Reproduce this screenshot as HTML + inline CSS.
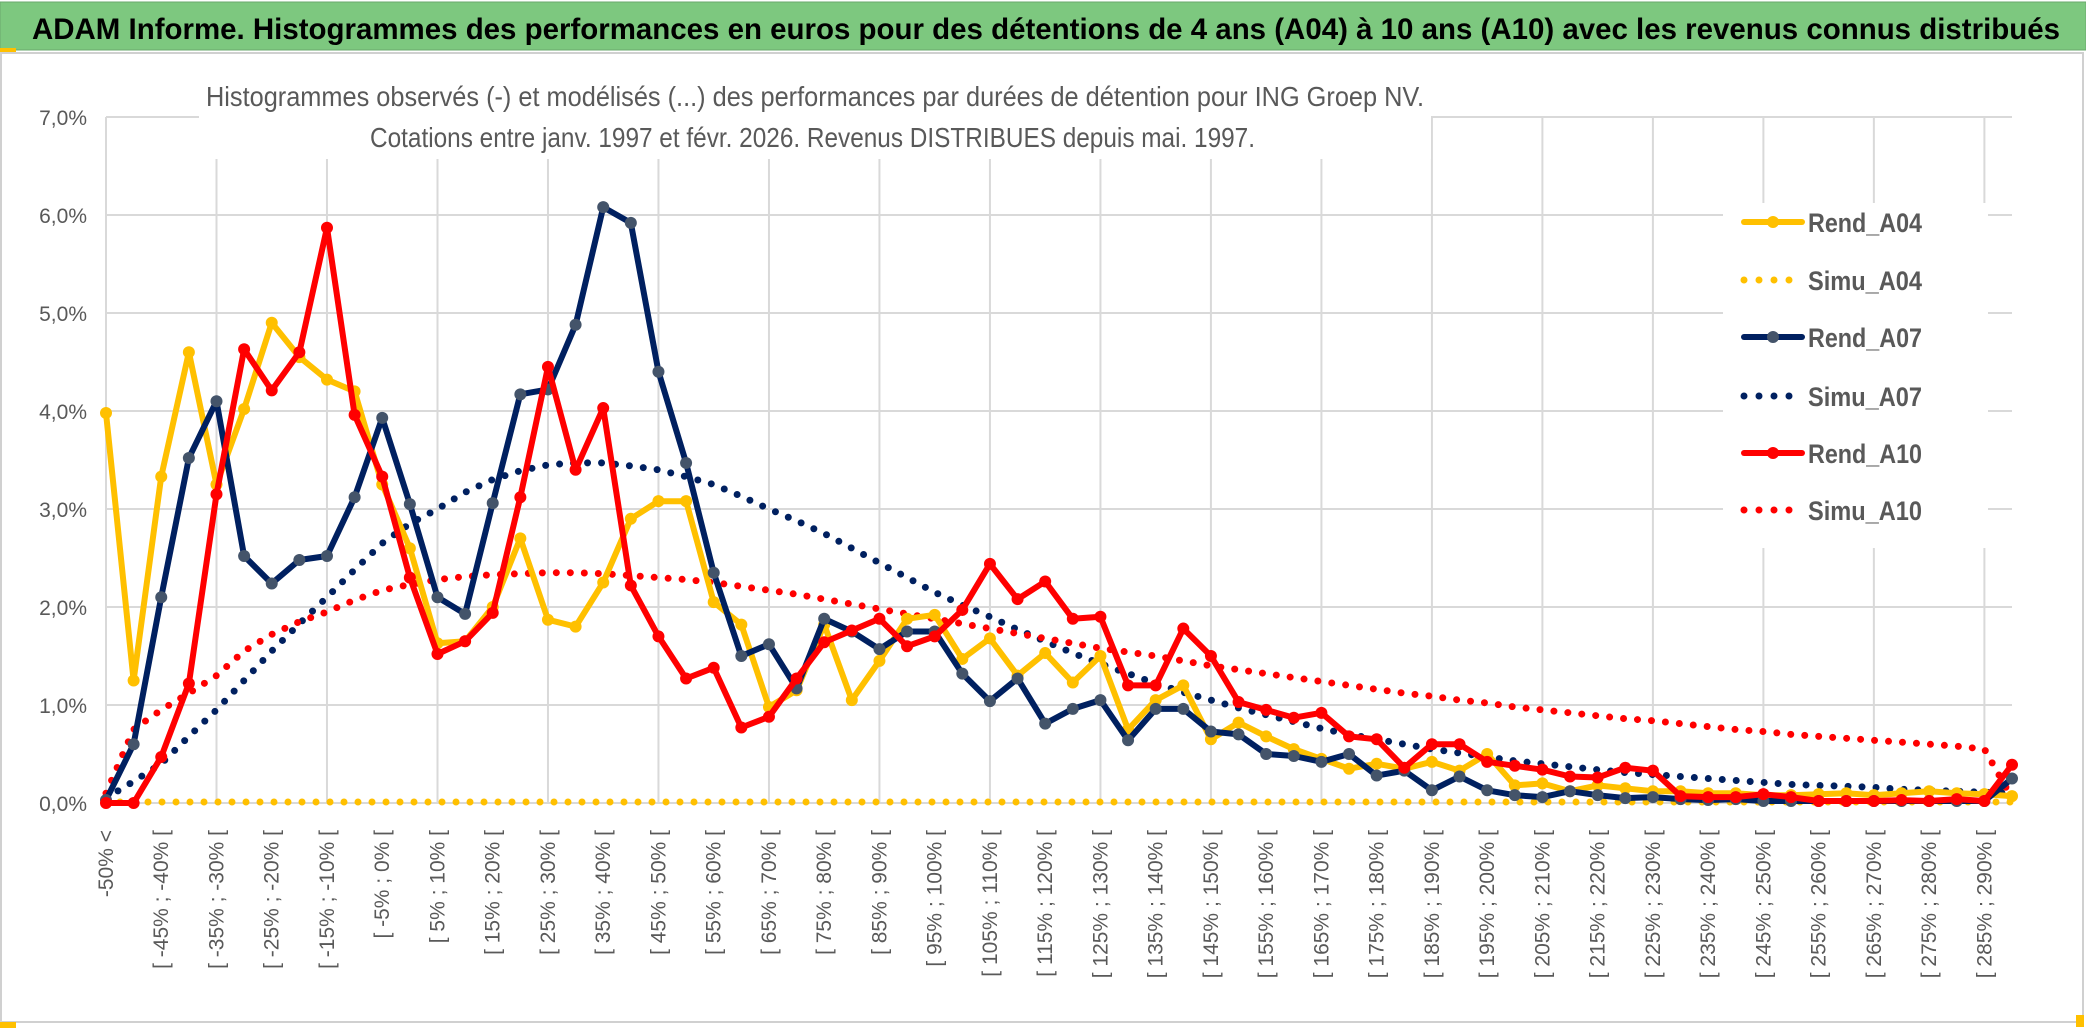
<!DOCTYPE html>
<html><head><meta charset="utf-8"><style>
html,body{margin:0;padding:0;background:#fff;}
svg{display:block;font-family:"Liberation Sans",sans-serif;}
</style></head><body>
<svg id="chart" width="2086" height="1031" viewBox="0 0 2086 1031" xmlns="http://www.w3.org/2000/svg">
<rect x="0" y="0" width="2086" height="1031" fill="#fff"/>
<rect x="0" y="2" width="2086" height="48" fill="#7dc87f" stroke="#6aa86c" stroke-width="1"/>
<rect x="0" y="48" width="16" height="4" fill="#ffc000"/>
<text x="32" y="39" font-size="30" font-weight="bold" fill="#000" textLength="2028" lengthAdjust="spacingAndGlyphs">ADAM Informe. Histogrammes des performances en euros pour des détentions de 4 ans (A04) à 10 ans (A10) avec les revenus connus distribués</text>
<rect x="1" y="53" width="2082" height="969" fill="none" stroke="#d0d0d0" stroke-width="2"/>
<rect x="0" y="1022" width="16" height="6" fill="#ffc000"/>
<rect x="2076" y="1015" width="8" height="12" fill="#ffc000"/>
<g id="grid"></g>
<g id="series"></g>
<g id="axes"></g>
<rect x="199" y="66" width="1232" height="93" fill="#fff"/>
<text x="206" y="106" font-size="28" fill="#595959" textLength="1218" lengthAdjust="spacingAndGlyphs">Histogrammes observés (-) et modélisés (...) des performances par durées de détention pour ING Groep NV.</text>
<text x="370" y="147" font-size="28" fill="#595959" textLength="885" lengthAdjust="spacingAndGlyphs">Cotations entre janv. 1997 et févr. 2026. Revenus DISTRIBUES depuis mai. 1997.</text>
<g id="legend"></g>
</svg>
<script>
const rendA04=[3.98,1.25,3.33,4.6,3.25,4.02,4.9,4.55,4.32,4.2,3.25,2.6,1.63,1.65,2.0,2.7,1.87,1.8,2.25,2.9,3.08,3.08,2.05,1.82,0.98,1.15,1.82,1.05,1.45,1.88,1.92,1.47,1.68,1.3,1.53,1.23,1.5,0.75,1.05,1.2,0.65,0.82,0.68,0.55,0.45,0.35,0.4,0.35,0.42,0.33,0.5,0.18,0.2,0.12,0.18,0.15,0.12,0.12,0.1,0.1,0.08,0.08,0.09,0.1,0.08,0.1,0.12,0.1,0.09,0.07];
const simuA04=[0.01,0.01,0.01,0.01,0.01,0.01,0.01,0.01,0.01,0.01,0.01,0.01,0.01,0.01,0.01,0.01,0.01,0.01,0.01,0.01,0.01,0.01,0.01,0.01,0.01,0.01,0.01,0.01,0.01,0.01,0.01,0.01,0.01,0.01,0.01,0.01,0.01,0.01,0.01,0.01,0.01,0.01,0.01,0.01,0.01,0.01,0.01,0.01,0.01,0.01,0.01,0.01,0.01,0.01,0.01,0.01,0.01,0.01,0.01,0.01,0.01,0.01,0.01,0.01,0.01,0.01,0.01,0.01,0.01,0.01];
const rendA07=[0.03,0.6,2.1,3.52,4.1,2.52,2.24,2.48,2.52,3.12,3.93,3.05,2.1,1.93,3.06,4.17,4.22,4.88,6.08,5.92,4.4,3.47,2.35,1.5,1.62,1.17,1.88,1.75,1.57,1.75,1.75,1.32,1.04,1.27,0.81,0.96,1.05,0.64,0.96,0.96,0.73,0.7,0.5,0.48,0.42,0.5,0.28,0.33,0.13,0.27,0.13,0.08,0.06,0.12,0.08,0.05,0.06,0.04,0.03,0.04,0.02,0.02,0.02,0.02,0.02,0.02,0.02,0.02,0.02,0.25];
const simuA07=[0.05,0.22,0.4,0.68,0.95,1.25,1.55,1.83,2.1,2.38,2.65,2.85,3.0,3.17,3.3,3.39,3.45,3.47,3.47,3.44,3.4,3.33,3.25,3.13,3.0,2.88,2.75,2.6,2.45,2.3,2.15,2.02,1.9,1.77,1.65,1.53,1.42,1.32,1.22,1.13,1.05,0.97,0.9,0.83,0.76,0.7,0.65,0.6,0.55,0.51,0.47,0.43,0.4,0.37,0.34,0.31,0.29,0.27,0.25,0.23,0.21,0.19,0.18,0.17,0.16,0.14,0.13,0.12,0.11,0.1];
const rendA10=[0.0,0.0,0.47,1.22,3.15,4.63,4.21,4.6,5.87,3.96,3.33,2.3,1.52,1.65,1.94,3.12,4.45,3.4,4.03,2.22,1.7,1.27,1.38,0.77,0.88,1.27,1.64,1.76,1.88,1.6,1.7,1.97,2.44,2.08,2.26,1.88,1.9,1.2,1.2,1.78,1.5,1.03,0.95,0.87,0.92,0.68,0.65,0.36,0.6,0.6,0.42,0.38,0.34,0.27,0.26,0.36,0.33,0.07,0.06,0.06,0.09,0.06,0.02,0.02,0.02,0.03,0.02,0.04,0.02,0.39];
const simuA10=[0.1,0.75,0.95,1.12,1.3,1.55,1.72,1.85,1.95,2.07,2.17,2.23,2.28,2.31,2.33,2.34,2.35,2.35,2.34,2.32,2.3,2.28,2.25,2.21,2.17,2.13,2.08,2.03,1.98,1.93,1.88,1.83,1.78,1.73,1.68,1.63,1.58,1.54,1.5,1.45,1.4,1.36,1.32,1.28,1.24,1.2,1.16,1.12,1.09,1.05,1.02,0.98,0.95,0.92,0.89,0.86,0.84,0.81,0.78,0.75,0.73,0.7,0.68,0.66,0.64,0.62,0.6,0.58,0.55,0.05];
const yTicks=[0,1,2,3,4,5,6,7];
const yTickLabels=["0,0%","1,0%","2,0%","3,0%","4,0%","5,0%","6,0%","7,0%"];
const categories=["-50% <"];
for(let k=1;k<70;k++){categories.push("[ "+(-55+5*k)+"% ; "+(-50+5*k)+"% [");}

const NS="http://www.w3.org/2000/svg";
const X0=106,X1=2012,Y0=803,Y7=117;
const n=categories.length;
const xs=i=>X0+i*(X1-X0)/(n-1);
const ys=v=>Y0-v*(Y0-Y7)/7;
function mk(tag,attrs,parent){const e=document.createElementNS(NS,tag);for(const k in attrs)e.setAttribute(k,attrs[k]);parent.appendChild(e);return e;}
const grid=document.getElementById('grid'),ser=document.getElementById('series'),axes=document.getElementById('axes'),leg=document.getElementById('legend');
yTicks.forEach((t,i)=>{
  const l=mk('line',{x1:X0,x2:X1,y1:ys(t),y2:ys(t),stroke:'#d9d9d9','stroke-width':2},grid);
  
  
  const tx=mk('text',{x:87,y:ys(t)+8,'font-size':21,fill:'#595959','text-anchor':'end'},axes);
  tx.textContent=yTickLabels[i];
  
  
});
for(let i=0;i<n;i+=4){
  const l=mk('line',{x1:xs(i),x2:xs(i),y1:Y7,y2:Y0,stroke:'#d9d9d9','stroke-width':2},grid);
  
  
}
for(let i=0;i<n;i+=2){
  const x=xs(i)+7,y=830;
  const tx=mk('text',{x:x,y:y,'font-size':21,fill:'#595959','text-anchor':'end',transform:`rotate(-90 ${x} ${y})`},axes);
  tx.textContent=categories[i];
  
  
}
function path(vals){return vals.map((v,i)=>(i?'L':'M')+xs(i).toFixed(1)+' '+ys(v).toFixed(1)).join(' ');}
function dotted(vals,color,name){
  const p=mk('path',{d:path(vals),fill:'none',stroke:color,'stroke-width':7,'stroke-linecap':'round','stroke-dasharray':'0 14'},ser);
  
  
}
function solid(vals,color,mcolor,name){
  const p=mk('path',{d:path(vals),fill:'none',stroke:color,'stroke-width':6,'stroke-linejoin':'round'},ser);
  
  
  vals.forEach((v,i)=>{
    const c=mk('circle',{cx:xs(i),cy:ys(v),r:6,fill:mcolor},ser);
    
    
  });
}
dotted(simuA04,'#ffc000','simu-a04-line');
dotted(simuA07,'#002060','simu-a07-line');
dotted(simuA10,'#ff0000','simu-a10-line');
solid(rendA04,'#ffc000','#ffc000','rend-a04-line');
solid(rendA07,'#002060','#44546a','rend-a07-line');
solid(rendA10,'#ff0000','#ff0000','rend-a10-line');
// legend
mk('rect',{x:1723,y:203,width:265,height:345,fill:'#fff'},leg);
const legItems=[["Rend_A04","#ffc000","#ffc000",false],["Simu_A04","#ffc000","",true],["Rend_A07","#002060","#44546a",false],["Simu_A07","#002060","",true],["Rend_A10","#ff0000","#ff0000",false],["Simu_A10","#ff0000","",true]];
const legY=[232,290,347,406,463,520];
legItems.forEach((it,i)=>{
  const g=mk('g',{},leg);
  
  
  const y=legY[i]-10;
  if(it[3]){
    mk('line',{x1:1744,x2:1804,y1:y,y2:y,stroke:it[1],'stroke-width':7,'stroke-linecap':'round','stroke-dasharray':'0 15'},g);
  }else{
    mk('line',{x1:1744,x2:1802,y1:y,y2:y,stroke:it[1],'stroke-width':6,'stroke-linecap':'round'},g);
    mk('circle',{cx:1773,cy:y,r:6,fill:it[2]},g);
  }
  const t=mk('text',{x:1808,y:legY[i],'font-size':27,'font-weight':'bold',fill:'#595959',textLength:114,lengthAdjust:'spacingAndGlyphs'},g);
  t.textContent=it[0];
});
</script>
</body></html>
